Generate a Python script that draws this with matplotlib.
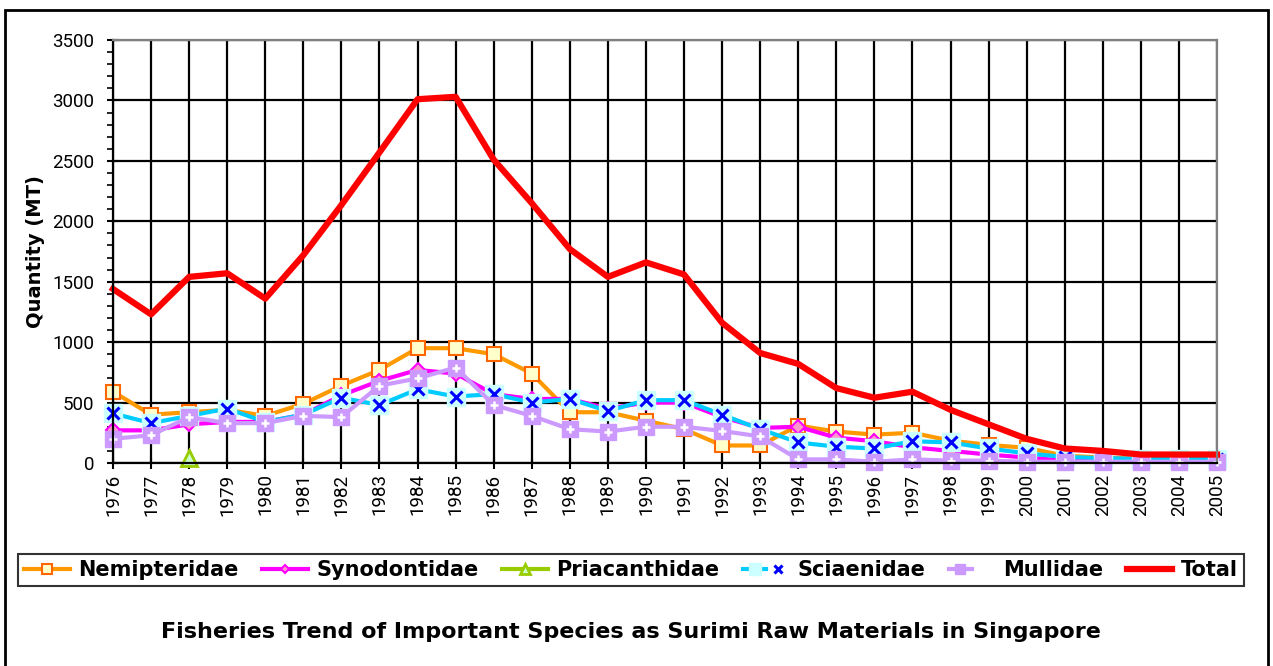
import numpy as np
import matplotlib
matplotlib.use("Agg")
import matplotlib.pyplot as plt
from matplotlib.legend_handler import HandlerTuple
from matplotlib.patches import Rectangle
from matplotlib.ticker import MultipleLocator

years = list(range(1976, 2006))

nemipteridae = [590, 400, 420, 440, 390, 490, 640, 770, 950, 950,
                900, 740, 420, 420, 350, 280, 145, 145, 310, 260,
                235, 250, 185, 150, 125, 60, 45, 35, 35, 35]
synodontidae = [270, 270, 320, 340, 340, 400, 560, 680, 770, 740,
                570, 530, 530, 450, 500, 500, 380, 290, 300, 210,
                180, 130, 100, 70, 45, 20, 15, 15, 15, 15]
priacanthidae = [np.nan] * 30
priacanthidae[2] = 40
sciaenidae = [410, 330, 390, 450, 340, 400, 540, 480, 610, 550,
              570, 500, 530, 430, 520, 520, 400, 280, 170, 135,
              120, 180, 170, 120, 80, 50, 40, 35, 35, 35]
mullidae = [200, 230, 380, 330, 330, 390, 380, 640, 700, 790,
            480, 390, 280, 260, 300, 300, 265, 220, 30, 30,
            10, 30, 20, 20, 10, 10, 10, 10, 10, 10]
total = [1440, 1230, 1540, 1570, 1360, 1720, 2135, 2570, 3010, 3030,
         2510, 2150, 1770, 1540, 1660, 1560, 1160, 910, 820, 620,
         540, 590, 440, 320, 200, 120, 100, 70, 70, 70]

title = "Fisheries Trend of Important Species as Surimi Raw Materials in Singapore"

fig = plt.figure(figsize=(12.73, 6.66), dpi=100)
ax = fig.add_axes([113 / 1273, 1 - 463 / 666, (1217 - 113) / 1273, (463 - 40) / 666])

# series, in excel order so Total ends on top
h1, = ax.plot(years, nemipteridae, color="#FF9900", lw=3, marker="s", ms=10,
              mfc="#FFFFCC", mec="#FF6600", mew=1.5, clip_on=False)
h2, = ax.plot(years, synodontidae, color="#FF00FF", lw=3, marker="D", ms=7,
              mfc="#FF99CC", mec="#FF00FF", mew=1.5, clip_on=False)
h3, = ax.plot(years, priacanthidae, color="#99CC00", lw=3, marker="^", ms=11,
              mfc="#CCFFCC", mec="#99CC00", mew=2, clip_on=False)
h4a, = ax.plot(years, sciaenidae, color="#00CCFF", lw=3, marker="s", ms=13,
               mfc="#CCFFFF", mec="#CCFFFF", clip_on=False)
h4b, = ax.plot(years, sciaenidae, ls="none", marker="x", ms=9, mec="#0000FF",
               mew=2.2, clip_on=False)
h5a, = ax.plot(years, mullidae, color="#CC99FF", lw=3, marker="s", ms=12,
               mfc="#CC99FF", mec="#CC99FF", clip_on=False)
h5b, = ax.plot(years, mullidae, ls="none", marker="+", ms=6, mec="white",
               mew=1.8, clip_on=False)
h6, = ax.plot(years, total, color="#FF0000", lw=4.5, clip_on=False)

ax.set_xlim(1976, 2005)
ax.set_ylim(0, 3500)
ax.set_xticks(years)
ax.set_xticklabels([str(y) for y in years], rotation=90)
ax.yaxis.set_major_locator(MultipleLocator(500))
ax.yaxis.set_minor_locator(MultipleLocator(100))
ax.grid(True, which="major", color="black", lw=1.6)
ax.set_axisbelow(True)

for s in ["left", "bottom"]:
    ax.spines[s].set_color("black")
    ax.spines[s].set_linewidth(1.6)
for s in ["top", "right"]:
    ax.spines[s].set_color("#808080")
    ax.spines[s].set_linewidth(1.6)

ax.tick_params(which="major", direction="inout", length=9, width=1.5,
               labelsize=13.5)
ax.tick_params(axis="y", which="major", pad=9)
ax.tick_params(axis="x", which="major", pad=3)
ax.tick_params(axis="y", which="minor", direction="out", length=4, width=1.2)
for lab in ax.get_xticklabels() + ax.get_yticklabels():
    lab.set_family("Roboto")

ax.set_ylabel("Quantity (MT)", fontsize=14, fontweight="bold", labelpad=5)

leg = fig.legend([h1, h2, h3, (h4a, h4b), (h5a, h5b), h6],
                 ["Nemipteridae", "Synodontidae", "Priacanthidae",
                  "Sciaenidae", "Mullidae", "Total"],
                 handler_map={tuple: HandlerTuple(ndivide=None, pad=0)},
                 loc="center", ncol=6, frameon=True, fancybox=False,
                 bbox_to_anchor=(18 / 1273, 1 - 595 / 666, 1226 / 1273, 50 / 666),
                 mode="expand", prop={"weight": "bold", "size": 15},
                 handlelength=2.2, handletextpad=0.4, markerscale=0.65,
                 borderaxespad=0, borderpad=0.3)
leg.get_frame().set_edgecolor("black")
leg.get_frame().set_linewidth(1.5)

fig.text(631 / 1273, 1 - 632 / 666, title, ha="center", va="center",
         fontsize=16, fontweight="bold")

# outer chart frame
fig.patches.append(Rectangle((5 / 1273, -0.05), 1263 / 1273, 1.05 - 10 / 666,
                             transform=fig.transFigure, fill=False,
                             edgecolor="black", lw=2))

fig.savefig("out.png", dpi=100)
